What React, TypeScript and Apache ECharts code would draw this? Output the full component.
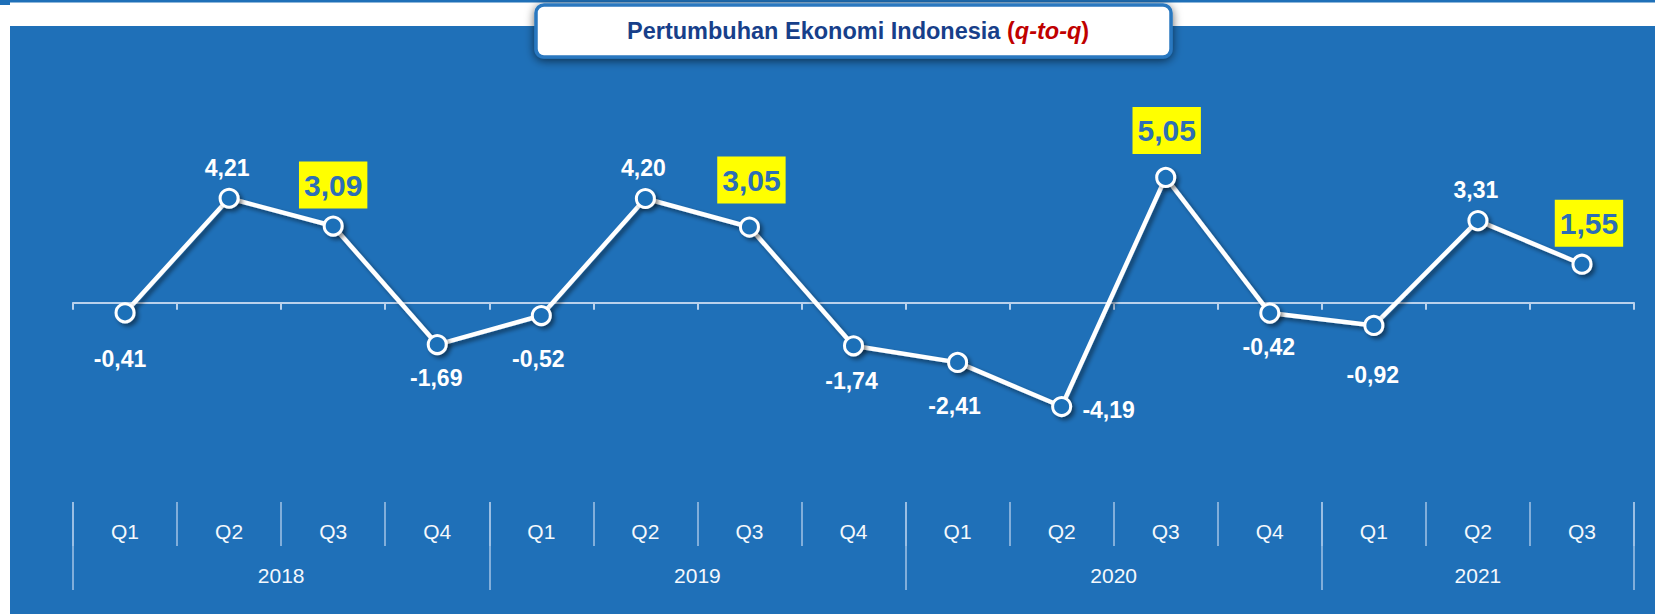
import React, { useEffect, useRef } from "react";
import * as echarts from "echarts";

// ---------- data ----------
const QUARTERS = ["Q1", "Q2", "Q3", "Q4", "Q1", "Q2", "Q3", "Q4", "Q1", "Q2", "Q3", "Q4", "Q1", "Q2", "Q3"];
const YEARS = ["2018", "2019", "2020", "2021"];
const QUARTERS_PER_YEAR = [4, 4, 4, 3];
const GROWTH = [-0.41, 4.21, 3.09, -1.69, -0.52, 4.2, 3.05, -1.74, -2.41, -4.19, 5.05, -0.42, -0.92, 3.31, 1.55];
const HIGHLIGHTED = [2, 6, 10, 14];
const TITLE_MAIN = "Pertumbuhan Ekonomi Indonesia ";
const TITLE_SUB = "q-to-q";

// ---------- styling (label placement relative to each point) ----------
const LABEL_OFFSETS: [number, number][] = [
  [-5, 46], [-2, -30], [0, -41], [-1, 33], [-3, 43], [-2, -31], [2, -47], [-2, 35],
  [-3, 44], [47, 3], [1, -47], [-1, 34], [-1, 50], [-2, -31], [7, -41],
];

const BLUE = "#1F70B8";
const NARROW = "'Liberation Sans Narrow', 'Arial Narrow', 'Liberation Sans', Arial, sans-serif";
const SANS = "'Liberation Sans', Arial, sans-serif";

const fmt = (v: number) => v.toFixed(2).replace(".", ",");

export default function App() {
  const ref = useRef<HTMLDivElement>(null);

  useEffect(() => {
    if (!ref.current) return;
    const chart = echarts.init(ref.current, undefined, { renderer: "svg" });

    const catKeys = QUARTERS.map((q, i) => `c${i}`);

    // year axis: half-quarter points
    const totalQ = QUARTERS.length;
    const yearKeys: string[] = [];
    for (let i = 0; i <= totalQ * 2; i++) yearKeys.push(`h${i}`);
    const yearLabelAt: Record<number, string> = {};
    const yearTickAt = new Set<number>();
    let start = 0;
    YEARS.forEach((y, k) => {
      const n = QUARTERS_PER_YEAR[k];
      yearTickAt.add(start * 2);
      yearLabelAt[start * 2 + n] = y;
      start += n;
    });
    yearTickAt.add(start * 2);

    const sepColor = "#A3C3E6";

    const option: any = {
      animation: false,
      backgroundColor: "#ffffff",
      title: {
        text: `{a|${TITLE_MAIN}}{b|(}{c|${TITLE_SUB}}{b|)}`,
        left: 627,
        top: 17,
        padding: 0,
        z: 10,
        textStyle: {
          rich: {
            a: { fontFamily: SANS, fontWeight: "bold", fontSize: 23.5, color: "#173F8A", lineHeight: 28 },
            b: { fontFamily: SANS, fontWeight: "bold", fontSize: 23.5, color: "#C00000", lineHeight: 28 },
            c: { fontFamily: SANS, fontWeight: "bold", fontStyle: "italic", fontSize: 23.5, color: "#C00000", lineHeight: 28 },
          },
        },
      },
      graphic: [
        { type: "rect", z: -10, silent: true, shape: { x: 0, y: 0, width: 1655, height: 2.5 }, style: { fill: BLUE } },
        { type: "rect", z: -10, silent: true, shape: { x: 0, y: 0, width: 10, height: 5 }, style: { fill: BLUE } },
        { type: "rect", z: -10, silent: true, shape: { x: 10, y: 26, width: 1645, height: 588 }, style: { fill: BLUE } },
        {
          type: "rect",
          z: 5,
          silent: true,
          shape: { x: 536, y: 5, width: 635, height: 52, r: 8 },
          style: {
            fill: "#ffffff",
            stroke: "#2A78C0",
            lineWidth: 3.5,
            shadowBlur: 10,
            shadowColor: "rgba(0,0,0,0.6)",
            shadowOffsetX: 0,
            shadowOffsetY: 2,
          },
        },
      ],
      grid: [
        { left: 73, right: 21, top: 104.3, height: 347.1 },
        { left: 73, right: 21, top: 501, height: 1 },
      ],
      xAxis: [
        {
          type: "category",
          gridIndex: 0,
          data: catKeys,
          boundaryGap: true,
          axisLine: { show: true, onZero: true, lineStyle: { color: "#B9D1EC", width: 2 } },
          axisTick: { show: true, interval: 0, length: 7, lineStyle: { color: "#B9D1EC", width: 2 } },
          axisLabel: { show: false },
          splitLine: { show: false },
          z: 1,
        },
        {
          type: "category",
          gridIndex: 1,
          position: "bottom",
          data: catKeys,
          boundaryGap: true,
          axisLine: { show: false, onZero: false },
          axisTick: { show: true, interval: 0, length: 44, lineStyle: { color: sepColor, width: 1.5 } },
          axisLabel: {
            show: true,
            interval: 0,
            margin: 29,
            verticalAlign: "middle",
            color: "#F4F8FC",
            fontFamily: NARROW,
            fontSize: 21,
            formatter: (_v: string, i: number) => QUARTERS[i],
          },
          splitLine: { show: false },
        },
        {
          type: "category",
          gridIndex: 1,
          position: "bottom",
          data: yearKeys,
          boundaryGap: false,
          axisLine: { show: false, onZero: false },
          axisTick: {
            show: true,
            interval: (i: number) => yearTickAt.has(i),
            length: 88,
            lineStyle: { color: sepColor, width: 1.5 },
          },
          axisLabel: {
            show: true,
            interval: 0,
            margin: 73,
            verticalAlign: "middle",
            color: "#F4F8FC",
            fontFamily: NARROW,
            fontSize: 21,
            formatter: (_v: string, i: number) => yearLabelAt[i] || "",
          },
          splitLine: { show: false },
        },
      ],
      yAxis: [
        { type: "value", gridIndex: 0, min: -6, max: 8, show: false, splitLine: { show: false } },
        { type: "value", gridIndex: 1, show: false, splitLine: { show: false } },
      ],
      series: [
        {
          type: "line",
          xAxisIndex: 0,
          yAxisIndex: 0,
          z: 5,
          symbol: "circle",
          symbolSize: 18,
          showAllSymbol: true,
          lineStyle: {
            color: "#ffffff",
            width: 4.5,
            shadowColor: "rgba(0,0,0,0.45)",
            shadowBlur: 4,
            shadowOffsetX: 3,
            shadowOffsetY: 3,
          },
          itemStyle: {
            color: BLUE,
            borderColor: "#ffffff",
            borderWidth: 3,
            shadowColor: "rgba(0,0,0,0.45)",
            shadowBlur: 4,
            shadowOffsetX: 3,
            shadowOffsetY: 3,
          },
          label: {
            show: true,
            position: "inside",
            align: "center",
            verticalAlign: "middle",
            color: "#ffffff",
            fontFamily: NARROW,
            fontWeight: "bold",
            fontSize: 23,
            formatter: (p: any) => fmt(p.value),
          },
          data: GROWTH.map((v, i) => {
            const hl = HIGHLIGHTED.includes(i);
            const off = LABEL_OFFSETS[i];
            return {
              value: v,
              label: hl
                ? {
                    offset: off,
                    color: "#2C6EB6",
                    backgroundColor: "#FFFF00",
                    fontSize: 30,
                    lineHeight: 38,
                    padding: [5, 5, 4, 5],
                  }
                : { offset: off },
            };
          }),
        },
      ],
    };

    chart.setOption(option);
    return () => chart.dispose();
  }, []);

  return (
    <div
      ref={ref}
      style={{ position: "absolute", left: 0, top: 0, width: 1655, height: 614 }}
    />
  );
}
